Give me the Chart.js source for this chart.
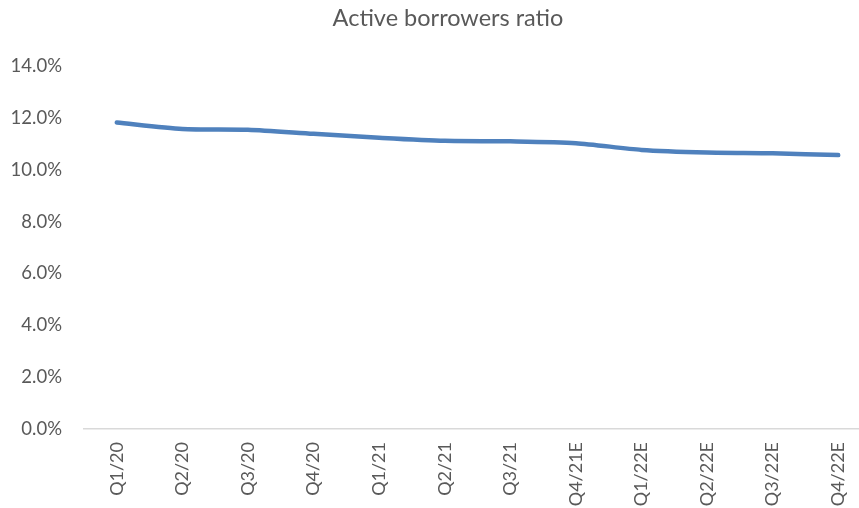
<!DOCTYPE html>
<html>
<head>
<meta charset="utf-8">
<script src="https://cdn.jsdelivr.net/npm/chart.js@4"></script>
<style>
html,body{margin:0;padding:0;background:#fff;overflow:hidden;}
#wrap{position:relative;width:896px;height:508px;}
</style>
</head>
<body>
<div id="wrap"><canvas id="c"></canvas></div>
<script>
const categories = ["Q1/20","Q2/20","Q3/20","Q4/20","Q1/21","Q2/21","Q3/21","Q4/21E","Q1/22E","Q2/22E","Q3/22E","Q4/22E"];
const activeBorrowersRatio = [11.83, 11.58, 11.55, 11.39, 11.24, 11.12, 11.10, 11.03, 10.77, 10.67, 10.64, 10.57];
const titleText = "Active borrowers ratio";
const yTicks = [0, 2, 4, 6, 8, 10, 12, 14];

const FONT = "Lato, 'Open Sans', sans-serif";
new Chart(document.getElementById('c'), {
  type: 'line',
  data: {
    labels: categories,
    datasets: [{
      label: titleText,
      data: activeBorrowersRatio,
      yAxisID: 'y',
      borderColor: '#4F81BD',
      backgroundColor: '#4F81BD',
      borderWidth: 4.5,
      borderCapStyle: 'round',
      borderJoinStyle: 'round',
      pointRadius: 0,
      tension: 0.25,
      fill: false
    }]
  },
  options: {
    responsive: true,
    maintainAspectRatio: false,
    animation: false,
    layout: { padding: { left: 0, right: 0, top: 0, bottom: 0 } },
    plugins: {
      legend: { display: false },
      tooltip: { enabled: false },
      title: {
        display: true,
        text: titleText,
        color: '#595959',
        font: { family: FONT, size: 23.5, weight: 'normal', lineHeight: 1.2 },
        padding: { top: 4, bottom: 34 }
      }
    },
    scales: {
      x: {
        offset: true,
        grid: { display: false, drawTicks: false },
        border: { display: true, color: '#D9D9D9', width: 1.5 },
        ticks: {
          color: '#595959',
          font: { family: FONT, size: 18 },
          minRotation: 90,
          maxRotation: 90,
          padding: 13,
          autoSkip: false
        },
        afterFit: (axis) => { axis.height = 79; }
      },
      y: {
        position: 'left',
        min: 0,
        max: 14,
        afterBuildTicks: (axis) => { axis.ticks = yTicks.map(v => ({ value: v })); },
        grid: { display: false, drawTicks: false },
        border: { display: false },
        ticks: {
          color: '#595959',
          font: { family: FONT, size: 18.5 },
          padding: 22,
          callback: (v) => v.toFixed(1) + '%'
        },
        afterFit: (axis) => { axis.width = 84; }
      },
      yRightSpacer: {
        position: 'right',
        min: 0,
        max: 14,
        grid: { display: false, drawTicks: false },
        border: { display: false },
        ticks: { display: false },
        afterFit: (axis) => { axis.width = 25; }
      }
    }
  }
});
</script>
</body>
</html>
